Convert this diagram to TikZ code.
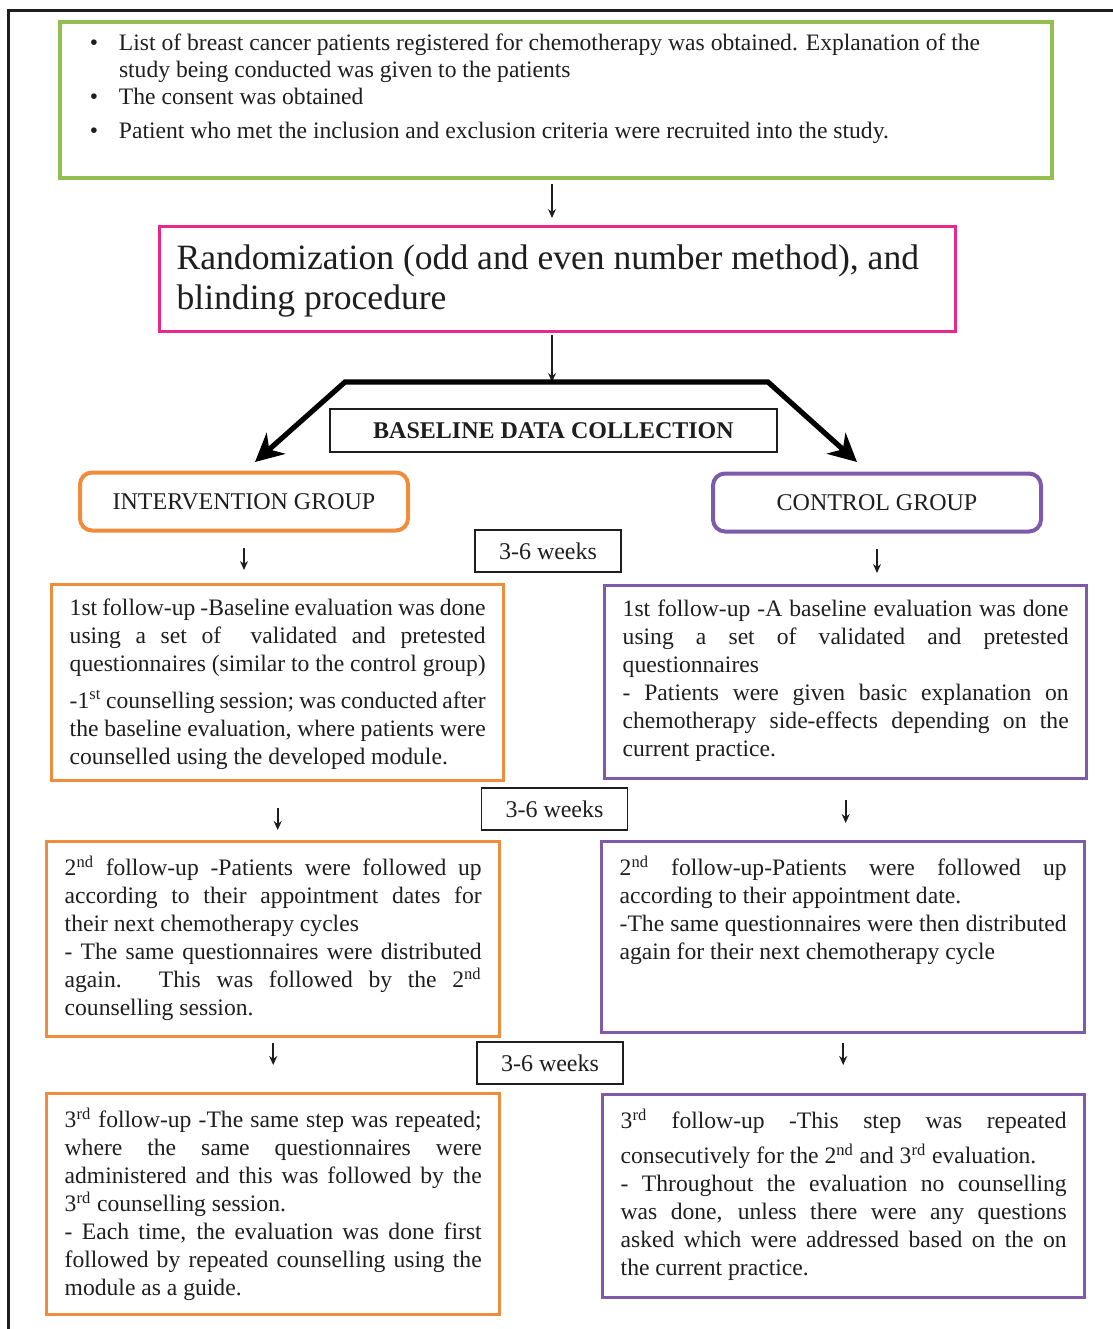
\documentclass[tikz,border=0pt]{standalone}
\usepackage{fontspec}
\setmainfont{Liberation Serif}
\usepackage{tikz}
\usetikzlibrary{arrows.meta}
\definecolor{boxgreen}{RGB}{146,190,82}
\definecolor{boxpink}{RGB}{232,40,140}
\definecolor{boxorange}{RGB}{240,140,60}
\definecolor{boxpurple}{RGB}{125,90,170}
\definecolor{inkgray}{RGB}{30,30,30}

% text block of a follow-up box: width, height, text
\newcommand{\stepbody}[3]{\parbox[t][#2][t]{#1}{\fontsize{11.8}{14}\selectfont
  \hyphenpenalty=10000\exhyphenpenalty=10000\tolerance=10000 #3}}
\newcommand{\bulletitem}{\par\hangindent=14.5pt\hangafter=1\noindent
  \makebox[14.5pt][l]{\textbullet}}
\newcommand{\gapafter}[1]{\vadjust{\vskip#1}}

\tikzset{
  every node/.style={text=inkgray},
  ibox/.style={draw=boxorange, line width=1.7pt, anchor=north west,
    inner xsep=9pt, inner ysep=7pt},
  cbox/.style={draw=boxpurple, line width=1.7pt, anchor=north west,
    inner xsep=9pt, inner ysep=7pt},
  grpbox/.style={rounded corners=6pt, line width=2pt, minimum width=164pt,
    minimum height=29pt, font=\fontsize{12}{14}\selectfont},
  weekbox/.style={draw=inkgray, line width=0.9pt, minimum width=73pt,
    minimum height=21pt, font=\fontsize{12}{14}\selectfont},
  smallarrow/.style={draw=inkgray, line width=0.8pt,
    -{Stealth[length=4.5pt,width=4pt]}},
  forkarrow/.style={draw=black, line width=2.6pt, line join=miter,
    {Stealth[length=14pt,width=14pt,inset=4.5pt]}-{Stealth[length=14pt,width=14pt,inset=4.5pt]}}
}

\begin{document}
\begin{tikzpicture}[x=0.5pt, y=-0.5pt]
  \useasboundingbox (0,0) rectangle (1113,1329);

  % Frame
  \draw[line width=1.5pt, inkgray] (8,1329) -- (8,10) -- (1113,10);

  % Recruitment
  \node[draw=boxgreen, line width=2pt, anchor=north west, inner xsep=15pt, inner ysep=6pt]
    (recruit) at (58,20) {\stepbody{466pt}{66pt}{\fontsize{11.8}{13.5}\selectfont
      \bulletitem List of breast cancer patients registered for chemotherapy was obtained. Explanation of the\newline
      study being conducted was given to the patients
      \bulletitem The consent was obtained\par\vspace{3.5pt}
      \bulletitem Patient who met the inclusion and exclusion criteria were recruited into the study.}};

  % Randomization
  \node[draw=boxpink, line width=1.6pt, anchor=north west, inner xsep=8.5pt, inner ysep=9pt]
    (random) at (158,225) {\parbox[t][34.5pt][t]{381pt}{\fontsize{17.8}{20}\selectfont
      Randomization (odd and even number method), and\newline blinding procedure}};

  % Split into groups
  \coordinate (fork) at (552,382);
  \coordinate (forkL) at (345,382);
  \coordinate (forkR) at (768,382);
  \coordinate (tipL) at (255,462);
  \coordinate (tipR) at (857,462);
  \draw[smallarrow, line width=0.6pt, shorten <=2pt, shorten >=3.5pt]
    (recruit.south -| fork) -- (random.north -| fork);
  \draw[smallarrow, line width=0.6pt, shorten <=1pt] (random.south -| fork) -- (fork);
  \draw[forkarrow] (tipL) -- (forkL) -- (forkR) -- (tipR);
  \node[draw=inkgray, line width=1pt, minimum width=223.5pt, minimum height=21.5pt,
    font=\bfseries\fontsize{12}{14}\selectfont] (baseline) at (553.5,430.5) {BASELINE DATA COLLECTION};

  % Groups
  \node[grpbox, draw=boxorange] (inter) at (244,501.5) {INTERVENTION GROUP};
  \node[grpbox, draw=boxpurple] (control) at (877,502.5) {CONTROL GROUP};

  % Intervals
  \node[weekbox] (wk1) at (548,551) {3-6 weeks};
  \node[weekbox] (wk2) at (554.5,809) {3-6 weeks};
  \node[weekbox] (wk3) at (550,1063) {3-6 weeks};

  % Intervention follow-ups
  \node[ibox] (i1) at (50,583) {\stepbody{208pt}{84pt}{%
    1st follow-up -Baseline evaluation was done\linebreak
    using a set of \ validated and pretested\linebreak
    questionnaires (similar to the control group)\gapafter{4.5pt}\newline
    -1\textsuperscript{st} counselling session; was conducted after\linebreak
    the baseline evaluation, where patients were\linebreak
    counselled using the developed module.}};
  \node[ibox] (i2) at (45,840) {\stepbody{208.5pt}{83.5pt}{%
    2\textsuperscript{nd} follow-up -Patients were followed up\linebreak
    according to their appointment dates for\linebreak
    their next chemotherapy cycles\newline
    - The same questionnaires were distributed\linebreak
    again. This was followed by the 2\textsuperscript{nd}\linebreak
    counselling session.}};
  \node[ibox] (i3) at (45,1092) {\stepbody{208.5pt}{96.5pt}{%
    3\textsuperscript{rd} follow-up -The same step was repeated;\linebreak
    where the same questionnaires were\linebreak
    administered and this was followed by the\linebreak
    3\textsuperscript{rd} counselling session.\newline
    - Each time, the evaluation was done first\linebreak
    followed by repeated counselling using the\linebreak
    module as a guide.}};

  % Control follow-ups
  \node[cbox] (c1) at (603,584) {\stepbody{223pt}{82.5pt}{%
    1st follow-up -A baseline evaluation was done\linebreak
    using a set of validated and pretested\linebreak
    questionnaires\newline
    - Patients were given basic explanation on\linebreak
    chemotherapy side-effects depending on the\linebreak
    current practice.}};
  \node[cbox] (c2) at (600,840) {\stepbody{223.5pt}{81.5pt}{%
    2\textsuperscript{nd} follow-up-Patients were followed up\linebreak
    according to their appointment date.\newline
    -The same questionnaires were then distributed\linebreak
    again for their next chemotherapy cycle}};
  \node[cbox] (c3) at (601,1093) {\stepbody{223pt}{87.5pt}{%
    3\textsuperscript{rd} follow-up -This step was repeated\gapafter{3.5pt}\linebreak
    consecutively for the 2\textsuperscript{nd} and 3\textsuperscript{rd} evaluation.\newline
    - Throughout the evaluation no counselling\linebreak
    was done, unless there were any questions\linebreak
    asked which were addressed based on the on\linebreak
    the current practice.}};

  % Arrows between steps
  \draw[smallarrow, shorten <=7.5pt, shorten >=6.5pt] (inter.south) -- (inter.south |- i1.north);
  \draw[smallarrow, shorten <=7.5pt, shorten >=5.5pt] (control.south) -- (control.south |- c1.north);
  \draw[smallarrow, shorten <=13pt, shorten >=5pt] (i1.south) -- (i1.south |- i2.north);
  \draw[smallarrow, shorten <=10pt, shorten >=8.5pt] (c1.south) -- (c1.south |- c2.north);
  \draw[smallarrow, shorten <=2.5pt, shorten >=13.5pt] (i2.south) -- (i2.south |- i3.north);
  \draw[smallarrow, shorten <=4.5pt, shorten >=14pt] (c2.south) -- (c2.south |- c3.north);
\end{tikzpicture}
\end{document}
